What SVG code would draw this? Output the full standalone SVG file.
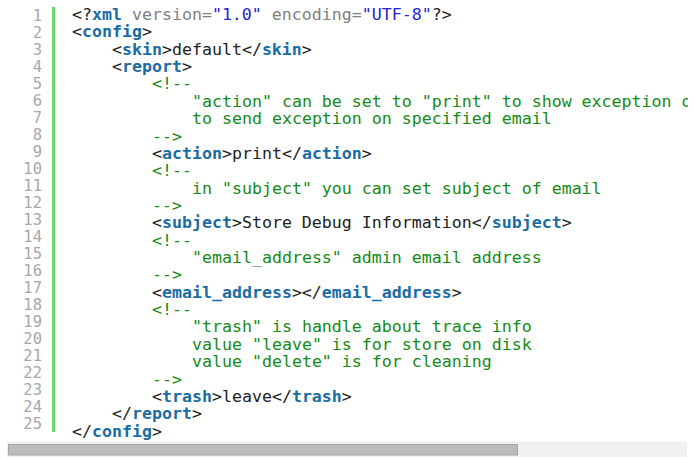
<svg xmlns="http://www.w3.org/2000/svg" width="694" height="459" viewBox="0 0 694 459">
<defs>
<style>
.ln{font-family:"DejaVu Sans Mono",monospace;font-size:15.5px;fill:#a8a8a8;text-anchor:end}
.code{font-family:"DejaVu Sans Mono",monospace;font-size:16.6px;fill:#222222;white-space:pre}
.t{fill:#1b6ca3;font-weight:bold}
.c{fill:#168a16}
.an{fill:#808080}
.av{fill:#2424d8}
</style>
<clipPath id="clip"><rect x="0" y="0" width="688" height="440"/></clipPath>
</defs>
<rect x="0" y="0" width="694" height="459" fill="#ffffff"/>
<g id="gutter">
<rect x="52" y="7" width="3.2" height="425" fill="#6cd66c"/>
<text class="ln" x="42" y="20.7">1</text>
<text class="ln" x="42" y="37.7">2</text>
<text class="ln" x="42" y="54.7">3</text>
<text class="ln" x="42" y="71.7">4</text>
<text class="ln" x="42" y="88.7">5</text>
<text class="ln" x="42" y="105.7">6</text>
<text class="ln" x="42" y="122.7">7</text>
<text class="ln" x="42" y="139.7">8</text>
<text class="ln" x="42" y="156.7">9</text>
<text class="ln" x="42" y="173.7">10</text>
<text class="ln" x="42" y="190.7">11</text>
<text class="ln" x="42" y="207.7">12</text>
<text class="ln" x="42" y="224.7">13</text>
<text class="ln" x="42" y="241.7">14</text>
<text class="ln" x="42" y="258.7">15</text>
<text class="ln" x="42" y="275.7">16</text>
<text class="ln" x="42" y="292.7">17</text>
<text class="ln" x="42" y="309.7">18</text>
<text class="ln" x="42" y="326.7">19</text>
<text class="ln" x="42" y="343.7">20</text>
<text class="ln" x="42" y="360.7">21</text>
<text class="ln" x="42" y="377.7">22</text>
<text class="ln" x="42" y="394.7">23</text>
<text class="ln" x="42" y="411.7">24</text>
<text class="ln" x="42" y="428.7">25</text>
</g>
<g id="code" clip-path="url(#clip)" xml:space="preserve">
<text class="code" x="72" y="20">&lt;?<tspan class="t">xml</tspan><tspan class="an"> version=</tspan><tspan class="av">"1.0"</tspan><tspan class="an"> encoding=</tspan><tspan class="av">"UTF-8"</tspan>?&gt;</text>
<text class="code" x="72" y="37.36">&lt;<tspan class="t">config</tspan>&gt;</text>
<text class="code" x="112" y="54.72">&lt;<tspan class="t">skin</tspan>&gt;default&lt;/<tspan class="t">skin</tspan>&gt;</text>
<text class="code" x="112" y="72.08">&lt;<tspan class="t">report</tspan>&gt;</text>
<text class="code c" x="152" y="89.44">&lt;!--</text>
<text class="code c" x="192" y="106.8">"action" can be set to "print" to show exception o</text>
<text class="code c" x="192" y="124.16">to send exception on specified email</text>
<text class="code c" x="152" y="141.52">--&gt;</text>
<text class="code" x="152" y="158.88">&lt;<tspan class="t">action</tspan>&gt;print&lt;/<tspan class="t">action</tspan>&gt;</text>
<text class="code c" x="152" y="176.24">&lt;!--</text>
<text class="code c" x="192" y="193.6">in "subject" you can set subject of email</text>
<text class="code c" x="152" y="210.96">--&gt;</text>
<text class="code" x="152" y="228.32">&lt;<tspan class="t">subject</tspan>&gt;Store Debug Information&lt;/<tspan class="t">subject</tspan>&gt;</text>
<text class="code c" x="152" y="245.68">&lt;!--</text>
<text class="code c" x="192" y="263.04">"email_address" admin email address</text>
<text class="code c" x="152" y="280.4">--&gt;</text>
<text class="code" x="152" y="297.76">&lt;<tspan class="t">email_address</tspan>&gt;&lt;/<tspan class="t">email_address</tspan>&gt;</text>
<text class="code c" x="152" y="315.12">&lt;!--</text>
<text class="code c" x="192" y="332.48">"trash" is handle about trace info</text>
<text class="code c" x="192" y="349.84">value "leave" is for store on disk</text>
<text class="code c" x="192" y="367.2">value "delete" is for cleaning</text>
<text class="code c" x="152" y="384.56">--&gt;</text>
<text class="code" x="152" y="401.92">&lt;<tspan class="t">trash</tspan>&gt;leave&lt;/<tspan class="t">trash</tspan>&gt;</text>
<text class="code" x="112" y="419.28">&lt;/<tspan class="t">report</tspan>&gt;</text>
<text class="code" x="72" y="436.64">&lt;/<tspan class="t">config</tspan>&gt;</text>
</g>
<g id="scrollbar">
<rect x="7" y="441.5" width="680" height="15.5" fill="#f0f0f0"/>
<rect x="8.5" y="444.5" width="509" height="10.5" fill="#bcbcbc" stroke="#a4a4a4" stroke-width="1"/>
</g>
</svg>
